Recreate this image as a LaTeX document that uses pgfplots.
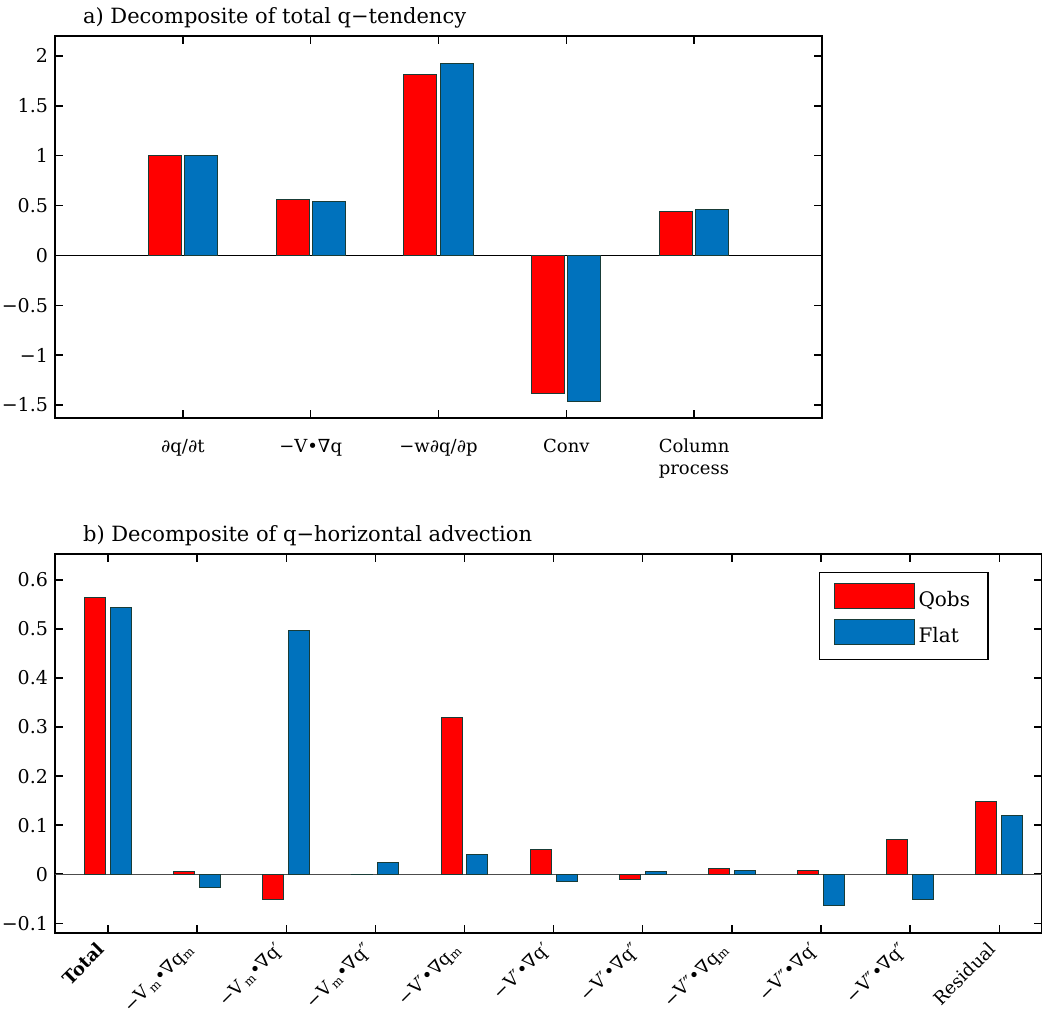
\documentclass[border=0pt]{standalone}
\usepackage{pgfplots}
\pgfplotsset{compat=1.18}
\usepackage{fontspec}
\setmainfont{DejaVu Serif}
\definecolor{qred}{RGB}{255,0,0}
\definecolor{qblue}{RGB}{0,114,189}
\definecolor{edgec}{RGB}{25,60,55}
\newcommand{\mn}{\textsubscript{m}}
\begin{document}
\begin{tikzpicture}
\path[use as bounding box] (0,0) rectangle (521pt,506.5pt);
\pgfplotsset{
  myax/.style={
    scale only axis,
    axis line style={line width=0.8pt},
    tick style={line width=0.7pt, black},
    major tick length=4pt,
    tick align=inside,
    ticklabel style={font=\fontsize{9.5}{10}\selectfont},
    clip=false,
  },
  redbar/.style={ybar, fill=qred, draw=edgec, line width=0.5pt},
  bluebar/.style={ybar, fill=qblue, draw=edgec, line width=0.5pt},
}
% ---------------- panel a
\begin{axis}[myax,
  at={(27.5pt,297.5pt)}, anchor=south west,
  width=383.5pt, height=191pt,
  xmin=0, xmax=6, ymin=-1.63, ymax=2.2,
  xtick={1,2,3,4,5},
  xticklabels={∂q/∂t, −V•∇q, −w∂q/∂p, Conv, {Column\\process}},
  xticklabel style={align=left, anchor=north, yshift=-7pt, font=\fontsize{9}{11}\selectfont},
  ytick={-1.5,-1,-0.5,0,0.5,1,1.5,2},
  yticklabels={−1.5,−1,−0.5,0,0.5,1,1.5,2},
]
\addplot[black, line width=0.6pt] coordinates {(0,0) (6,0)};
\addplot[redbar, bar width=0.258, bar shift=-0.142] coordinates {(1,1.0) (2,0.565) (3,1.81) (4,-1.38) (5,0.44)};
\addplot[bluebar, bar width=0.258, bar shift=0.142] coordinates {(1,1.0) (2,0.543) (3,1.92) (4,-1.46) (5,0.46)};
\end{axis}
\node[anchor=west, font=\fontsize{10.5}{12}\selectfont] at (38pt,497.5pt) {a) Decomposite of total q−tendency};
% ---------------- panel b
\begin{axis}[myax,
  at={(27.5pt,40pt)}, anchor=south west,
  width=493.5pt, height=189.5pt,
  xmin=0.405, xmax=11.48, ymin=-0.12, ymax=0.653,
  xtick={1,2,3,4,5,6,7,8,9,10,11},
  xticklabels={\textbf{Total},
    −V\textsubscript{\,m}•∇q\mn,
    −V\textsubscript{\,m}•∇q′,
    −V\textsubscript{\,m}•∇q″,
    −V′•∇q\mn,
    −V′•∇q′,
    −V′•∇q″,
    −V″•∇q\mn,
    −V″•∇q′,
    −V″•∇q″,
    Residual},
  xticklabel style={xshift=-6pt, yshift=1pt, rotate=45, anchor=north east, font=\fontsize{9}{10}\selectfont},
  ytick={-0.1,0,0.1,0.2,0.3,0.4,0.5,0.6},
  yticklabels={−0.1,0,0.1,0.2,0.3,0.4,0.5,0.6},
  legend image code/.code={\draw[#1] (0pt,-4pt) rectangle (40pt,8.5pt);},
  legend style={at={(0.774,0.9525)}, anchor=north west, draw=black, line width=0.6pt,
    font=\fontsize{10}{12}\selectfont, inner xsep=7pt, inner ysep=5pt, row sep=3pt,
    cells={anchor=west}},
]
\addplot[gray!60!black, line width=0.6pt, forget plot] coordinates {(0.405,0) (11.48,0)};
\addplot[redbar, bar width=0.236, bar shift=-0.145, forget plot] coordinates {
 (1,0.565) (2,0.005) (3,-0.052) (4,-0.001) (5,0.32) (6,0.05) (7,-0.01) (8,0.012) (9,0.007) (10,0.071) (11,0.148)};
\addplot[bluebar, bar width=0.236, bar shift=0.145, forget plot] coordinates {
 (1,0.543) (2,-0.027) (3,0.497) (4,0.024) (5,0.04) (6,-0.015) (7,0.005) (8,0.007) (9,-0.063) (10,-0.052) (11,0.12)};
\addlegendimage{fill=qred, draw=edgec, line width=0.5pt}
\addlegendentry{Qobs}
\addlegendimage{fill=qblue, draw=edgec, line width=0.5pt}
\addlegendentry{Flat}
\end{axis}
\node[anchor=west, font=\fontsize{10.5}{12}\selectfont] at (38pt,238.5pt) {b) Decomposite of q−horizontal advection};
\end{tikzpicture}
\end{document}
